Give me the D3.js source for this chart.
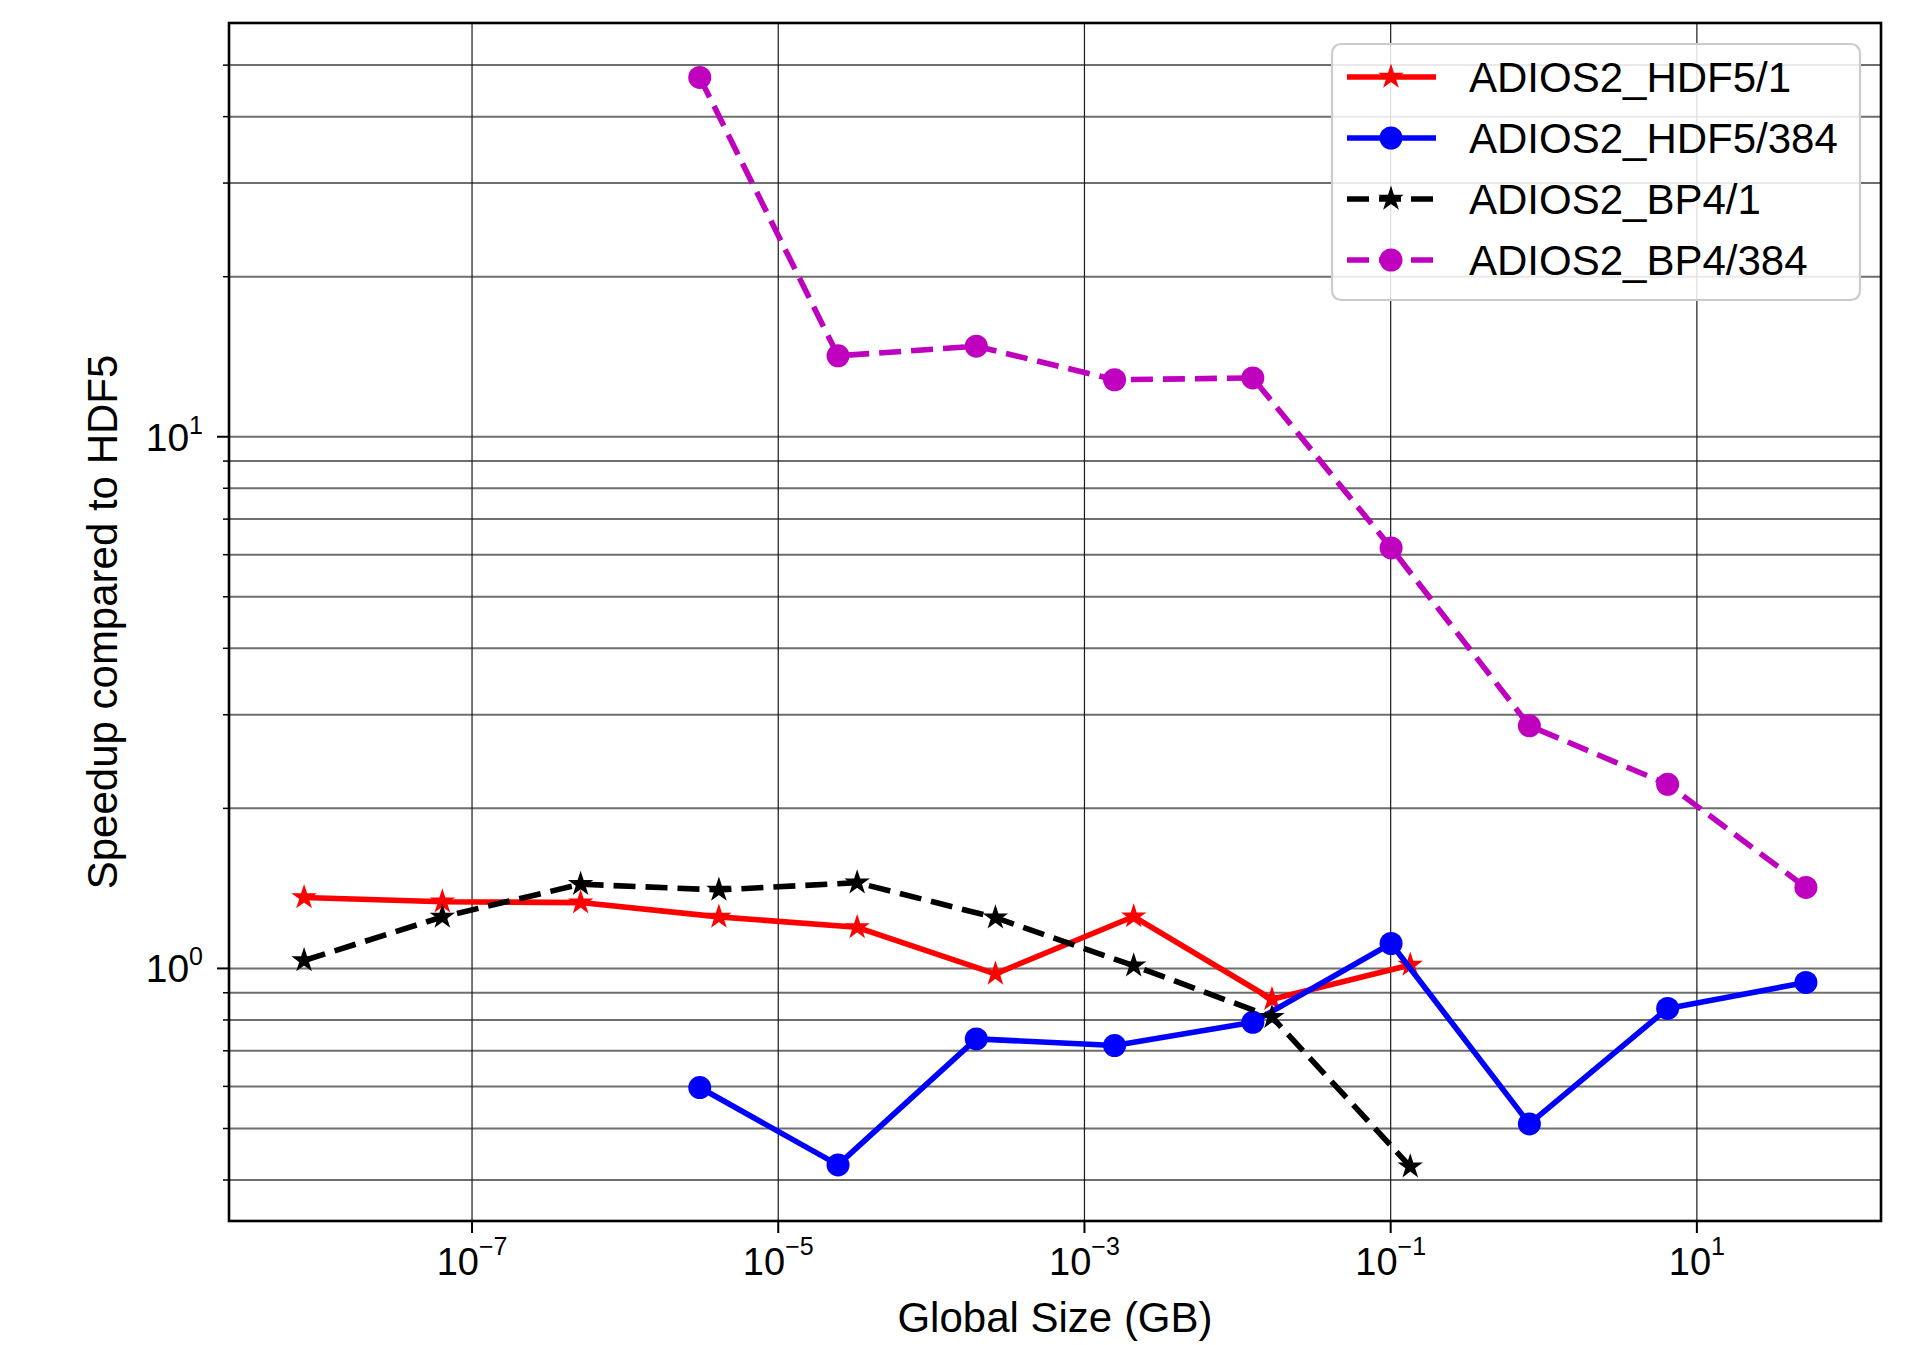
<!DOCTYPE html>
<html>
<head>
<meta charset="utf-8">
<script src="https://cdn.jsdelivr.net/npm/d3@7"></script>
<style>
  html, body { margin: 0; padding: 0; background: #fff; }
  svg { display: block; }
  text { font-family: "Liberation Sans", Arial, Helvetica, sans-serif; fill: #000; }
</style>
</head>
<body>
<svg id="chart" width="1917" height="1345"></svg>
<script>
// ---------------- DATA ----------------
// Global size (GB) for single-process runs (/1)
const sizes1 = [8e-9, 6.4e-8, 5.12e-7, 4.096e-6, 3.2768e-5, 2.62144e-4, 2.097152e-3, 1.6777216e-2, 1.34217728e-1];
// Global size (GB) for 384-process runs (/384)
const sizes384 = [3.072e-6, 2.4576e-5, 1.96608e-4, 1.572864e-3, 1.2582912e-2, 1.00663296e-1, 0.805306368, 6.442450944, 51.539607552];

const seriesNames = ["ADIOS2_HDF5/1", "ADIOS2_HDF5/384", "ADIOS2_BP4/1", "ADIOS2_BP4/384"];
const hdf5_1   = [1.36, 1.335, 1.33, 1.25, 1.195, 0.977, 1.252, 0.875, 1.015];
const hdf5_384 = [0.597, 0.427, 0.737, 0.716, 0.792, 1.114, 0.51, 0.841, 0.941];
const bp4_1    = [1.035, 1.25, 1.44, 1.405, 1.45, 1.246, 1.012, 0.81, 0.424];
const bp4_384  = [47.4, 14.2, 14.8, 12.8, 12.9, 6.18, 2.86, 2.22, 1.42];

const xTickExponents = [-7, -5, -3, -1, 1];
const yTickExponents = [0, 1];
const xLabel = "Global Size (GB)";
const yLabel = "Speedup compared to HDF5";

// ---------------- STYLE / LAYOUT ----------------
const styles = [
  { color: "#ff0000", dash: null,    marker: "star" },
  { color: "#0000ff", dash: null,    marker: "circle" },
  { color: "#000000", dash: "22,10", marker: "star" },
  { color: "#bf00bf", dash: "22,10", marker: "circle" }
];
const series = [
  { name: seriesNames[0], x: sizes1,   y: hdf5_1 },
  { name: seriesNames[1], x: sizes384, y: hdf5_384 },
  { name: seriesNames[2], x: sizes1,   y: bp4_1 },
  { name: seriesNames[3], x: sizes384, y: bp4_384 }
];

const L = 229, R = 1881, T = 23, B = 1221;
const LW = 5.6;
const svg = d3.select("#chart");

function logDomain(vals) {
  const lo = Math.log10(d3.min(vals)), hi = Math.log10(d3.max(vals));
  const m = (hi - lo) * 0.05;
  return [Math.pow(10, lo - m), Math.pow(10, hi + m)];
}
const allX = series.flatMap(s => s.x);
const allY = series.flatMap(s => s.y);
const x = d3.scaleLog().domain(logDomain(allX)).range([L, R]);
const y = d3.scaleLog().domain(logDomain(allY)).range([B, T]);

// ---------------- GRID ----------------
const [y0, y1] = y.domain();
const yAllTicks = y.ticks(20).filter(v => v > y0 * 1.001 && v < y1 * 0.999);
const yMajor = yTickExponents.map(e => Math.pow(10, e));
const yMinor = yAllTicks.filter(v => !yMajor.some(m => Math.abs(m - v) / m < 1e-9));
const xMajor = xTickExponents.map(e => Math.pow(10, e));

const grid = svg.append("g");
grid.selectAll(".hg").data(yAllTicks).join("line")
  .attr("x1", L).attr("x2", R)
  .attr("y1", d => y(d)).attr("y2", d => y(d))
  .attr("stroke", "#6e6e6e").attr("stroke-width", 2);
grid.selectAll(".vg").data(xMajor).join("line")
  .attr("x1", d => x(d)).attr("x2", d => x(d))
  .attr("y1", T).attr("y2", B)
  .attr("stroke", "#1a1a1a").attr("stroke-width", 1.2);

// ---------------- SERIES ----------------
const starPath = d3.symbol().type(d3.symbolStar).size(135)();
const line = d3.line().x(d => x(d[0])).y(d => y(d[1]));

series.forEach((s, i) => {
  const st = styles[i];
  const pts = s.x.map((xv, k) => [xv, s.y[k]]);
  const g = svg.append("g");
  g.append("path").attr("d", line(pts))
    .attr("fill", "none").attr("stroke", st.color).attr("stroke-width", LW)
    .attr("stroke-linejoin", "round")
    .attr("stroke-dasharray", st.dash);
  if (st.marker === "circle") {
    g.selectAll("circle").data(pts).join("circle")
      .attr("cx", d => x(d[0])).attr("cy", d => y(d[1])).attr("r", 11.5)
      .attr("fill", st.color);
  } else {
    g.selectAll("path.m").data(pts).join("path").attr("class", "m")
      .attr("d", starPath)
      .attr("transform", d => `translate(${x(d[0])},${y(d[1])})`)
      .attr("fill", st.color).attr("stroke", st.color).attr("stroke-width", 1.5)
      .attr("stroke-linejoin", "miter");
  }
});

// ---------------- FRAME & TICKS ----------------
svg.append("rect").attr("x", L).attr("y", T).attr("width", R - L).attr("height", B - T)
  .attr("fill", "none").attr("stroke", "#000").attr("stroke-width", 2.6);

const ticks = svg.append("g").attr("stroke", "#000");
ticks.selectAll(".xt").data(xMajor).join("line")
  .attr("x1", d => x(d)).attr("x2", d => x(d)).attr("y1", B).attr("y2", B + 12)
  .attr("stroke-width", 2);
ticks.selectAll(".ytM").data(yMajor).join("line")
  .attr("x1", L - 12).attr("x2", L).attr("y1", d => y(d)).attr("y2", d => y(d))
  .attr("stroke-width", 2);
ticks.selectAll(".ytm").data(yMinor).join("line")
  .attr("x1", L - 6).attr("x2", L).attr("y1", d => y(d)).attr("y2", d => y(d))
  .attr("stroke-width", 1.5);

// x tick labels
const xl = svg.append("g");
xTickExponents.forEach(e => {
  const t = xl.append("text").attr("x", x(Math.pow(10, e))).attr("y", 1275)
    .attr("text-anchor", "middle").attr("font-size", 38);
  t.append("tspan").text("10");
  t.append("tspan").attr("font-size", 25).attr("dy", -20)
    .text(e < 0 ? "\u2212" + Math.abs(e) : String(e));
});
// y tick labels
yTickExponents.forEach(e => {
  const t = svg.append("text").attr("x", 203).attr("y", y(Math.pow(10, e)) + 14)
    .attr("text-anchor", "end").attr("font-size", 39);
  t.append("tspan").text("10");
  t.append("tspan").attr("font-size", 25).attr("dy", -17)
    .text(e < 0 ? "\u2212" + Math.abs(e) : String(e));
});

// axis labels
svg.append("text").attr("x", (L + R) / 2).attr("y", 1332)
  .attr("text-anchor", "middle").attr("font-size", 42).text(xLabel);
svg.append("text")
  .attr("transform", `translate(117,${(T + B) / 2}) rotate(-90)`)
  .attr("text-anchor", "middle").attr("font-size", 42).text(yLabel);

// ---------------- LEGEND ----------------
const lg = svg.append("g");
lg.append("rect").attr("x", 1332).attr("y", 44).attr("width", 528).attr("height", 256)
  .attr("rx", 9).attr("ry", 9)
  .attr("fill", "#fff").attr("fill-opacity", 0.85)
  .attr("stroke", "#cccccc").attr("stroke-width", 2.2);
const rowY = [77, 138, 199, 260];
series.forEach((s, i) => {
  const st = styles[i];
  const cy = rowY[i];
  lg.append("line").attr("x1", 1347).attr("x2", 1436).attr("y1", cy).attr("y2", cy)
    .attr("stroke", st.color).attr("stroke-width", LW)
    .attr("stroke-dasharray", st.dash);
  if (st.marker === "circle") {
    lg.append("circle").attr("cx", 1391).attr("cy", cy).attr("r", 11.5).attr("fill", st.color);
  } else {
    lg.append("path").attr("d", starPath).attr("transform", `translate(1391,${cy})`)
      .attr("fill", st.color).attr("stroke", st.color).attr("stroke-width", 1.5);
  }
  lg.append("text").attr("x", 1469).attr("y", cy + 15).attr("font-size", 42).text(s.name);
});
</script>
</body>
</html>
